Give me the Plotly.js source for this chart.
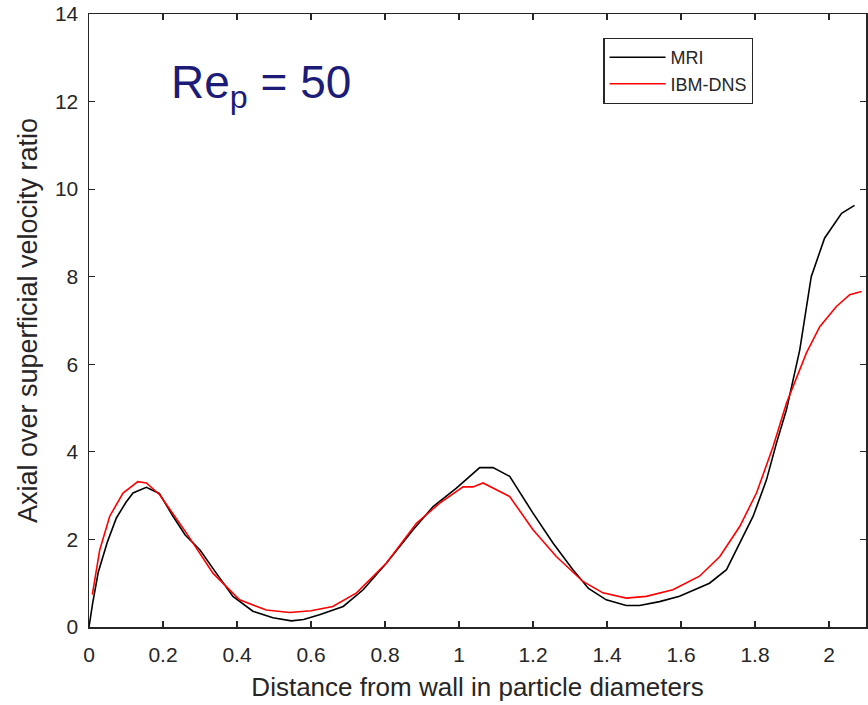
<!DOCTYPE html>
<html>
<head>
<meta charset="utf-8">
<script src="https://cdn.plot.ly/plotly-3.0.1.min.js"></script>
<style>html,body{margin:0;padding:0;background:#fff;}#chart{width:868px;height:705px;}</style>
</head>
<body>
<div id="chart"></div>
<script>
// MRI measurement (black)
const mriX = [0, 0.01, 0.025, 0.05, 0.074, 0.1, 0.119, 0.155, 0.19, 0.227, 0.26, 0.3, 0.344, 0.389, 0.443, 0.497, 0.547, 0.58, 0.623, 0.687, 0.741, 0.804, 0.876, 0.93, 0.993, 1.056, 1.092, 1.137, 1.2, 1.254, 1.308, 1.35, 1.398, 1.452, 1.488, 1.542, 1.596, 1.677, 1.723, 1.759, 1.795, 1.831, 1.858, 1.885, 1.921, 1.952, 1.988, 2.034, 2.069];
const mriY = [0, 0.55, 1.25, 1.95, 2.49, 2.85, 3.06, 3.19, 3.05, 2.53, 2.1, 1.76, 1.23, 0.70, 0.36, 0.21, 0.14, 0.17, 0.28, 0.47, 0.85, 1.46, 2.22, 2.75, 3.17, 3.64, 3.64, 3.44, 2.60, 1.92, 1.31, 0.88, 0.62, 0.49, 0.49, 0.58, 0.70, 1.0, 1.31, 1.92, 2.53, 3.36, 4.2, 4.96, 6.33, 8.0, 8.88, 9.45, 9.63];
// IBM-DNS simulation (red)
const dnsX = [0.009, 0.029, 0.056, 0.092, 0.132, 0.155, 0.191, 0.263, 0.335, 0.407, 0.479, 0.542, 0.6, 0.659, 0.723, 0.804, 0.885, 0.948, 1.011, 1.038, 1.065, 1.101, 1.137, 1.2, 1.263, 1.335, 1.389, 1.452, 1.506, 1.578, 1.65, 1.705, 1.759, 1.804, 1.849, 1.885, 1.939, 1.975, 2.02, 2.056, 2.088];
const dnsY = [0.74, 1.76, 2.53, 3.06, 3.32, 3.29, 3.02, 2.15, 1.23, 0.62, 0.39, 0.33, 0.37, 0.47, 0.78, 1.46, 2.37, 2.83, 3.2, 3.2, 3.29, 3.13, 2.98, 2.22, 1.61, 1.04, 0.78, 0.66, 0.70, 0.85, 1.16, 1.61, 2.30, 3.06, 4.12, 5.11, 6.26, 6.86, 7.32, 7.59, 7.66];
const xTicks = [0, 0.2, 0.4, 0.6, 0.8, 1, 1.2, 1.4, 1.6, 1.8, 2];
const yTicks = [0, 2, 4, 6, 8, 10, 12, 14];
const xTitle = 'Distance from wall in particle diameters';
const yTitle = 'Axial over superficial velocity ratio';
const annoText = 'Re<sub>p</sub> = 50';

const axisColor = '#262626';
const font = 'Arial, "Liberation Sans", sans-serif';

const traces = [
  {x: mriX, y: mriY, type: 'scatter', mode: 'lines', name: 'MRI', line: {color: '#000000', width: 1.6}},
  {x: dnsX, y: dnsY, type: 'scatter', mode: 'lines', name: 'IBM-DNS', line: {color: '#ff0000', width: 1.6}}
];

const layout = {
  width: 868, height: 705,
  margin: {l: 89, r: 2, t: 14, b: 78},
  paper_bgcolor: '#ffffff', plot_bgcolor: '#ffffff',
  font: {family: font, color: axisColor},
  showlegend: true,
  legend: {
    x: 0.662, y: 0.961, xanchor: 'left', yanchor: 'top',
    bgcolor: '#ffffff', bordercolor: axisColor, borderwidth: 1.2,
    font: {family: font, size: 18, color: axisColor},
    itemwidth: 56, tracegroupgap: 0
  },
  xaxis: {
    range: [0, 2.1], tickvals: xTicks, ticktext: xTicks.map(String),
    showgrid: false, zeroline: false, showline: true, linecolor: axisColor, linewidth: 1.5,
    mirror: 'ticks', ticks: 'inside', ticklen: 6, tickwidth: 1.2, tickcolor: axisColor,
    tickfont: {family: font, size: 21, color: axisColor}, ticklabelstandoff: 8,
    title: {text: xTitle, font: {family: font, size: 26, color: axisColor}, standoff: 13}
  },
  yaxis: {
    range: [0, 14], tickvals: yTicks, ticktext: yTicks.map(String),
    showgrid: false, zeroline: false, showline: true, linecolor: axisColor, linewidth: 1.5,
    mirror: 'ticks', ticks: 'inside', ticklen: 6, tickwidth: 1.2, tickcolor: axisColor,
    tickfont: {family: font, size: 21, color: axisColor}, ticklabelstandoff: 5,
    title: {text: yTitle, font: {family: font, size: 27, color: axisColor}, standoff: 9}
  },
  annotations: [{
    text: annoText, xref: 'paper', yref: 'paper', x: 0.103, y: 0.935,
    xanchor: 'left', yanchor: 'top', showarrow: false,
    font: {family: font, size: 46, color: '#1c1c78'}
  }]
};

Plotly.newPlot('chart', traces, layout, {displayModeBar: false, staticPlot: true});
</script>
</body>
</html>
